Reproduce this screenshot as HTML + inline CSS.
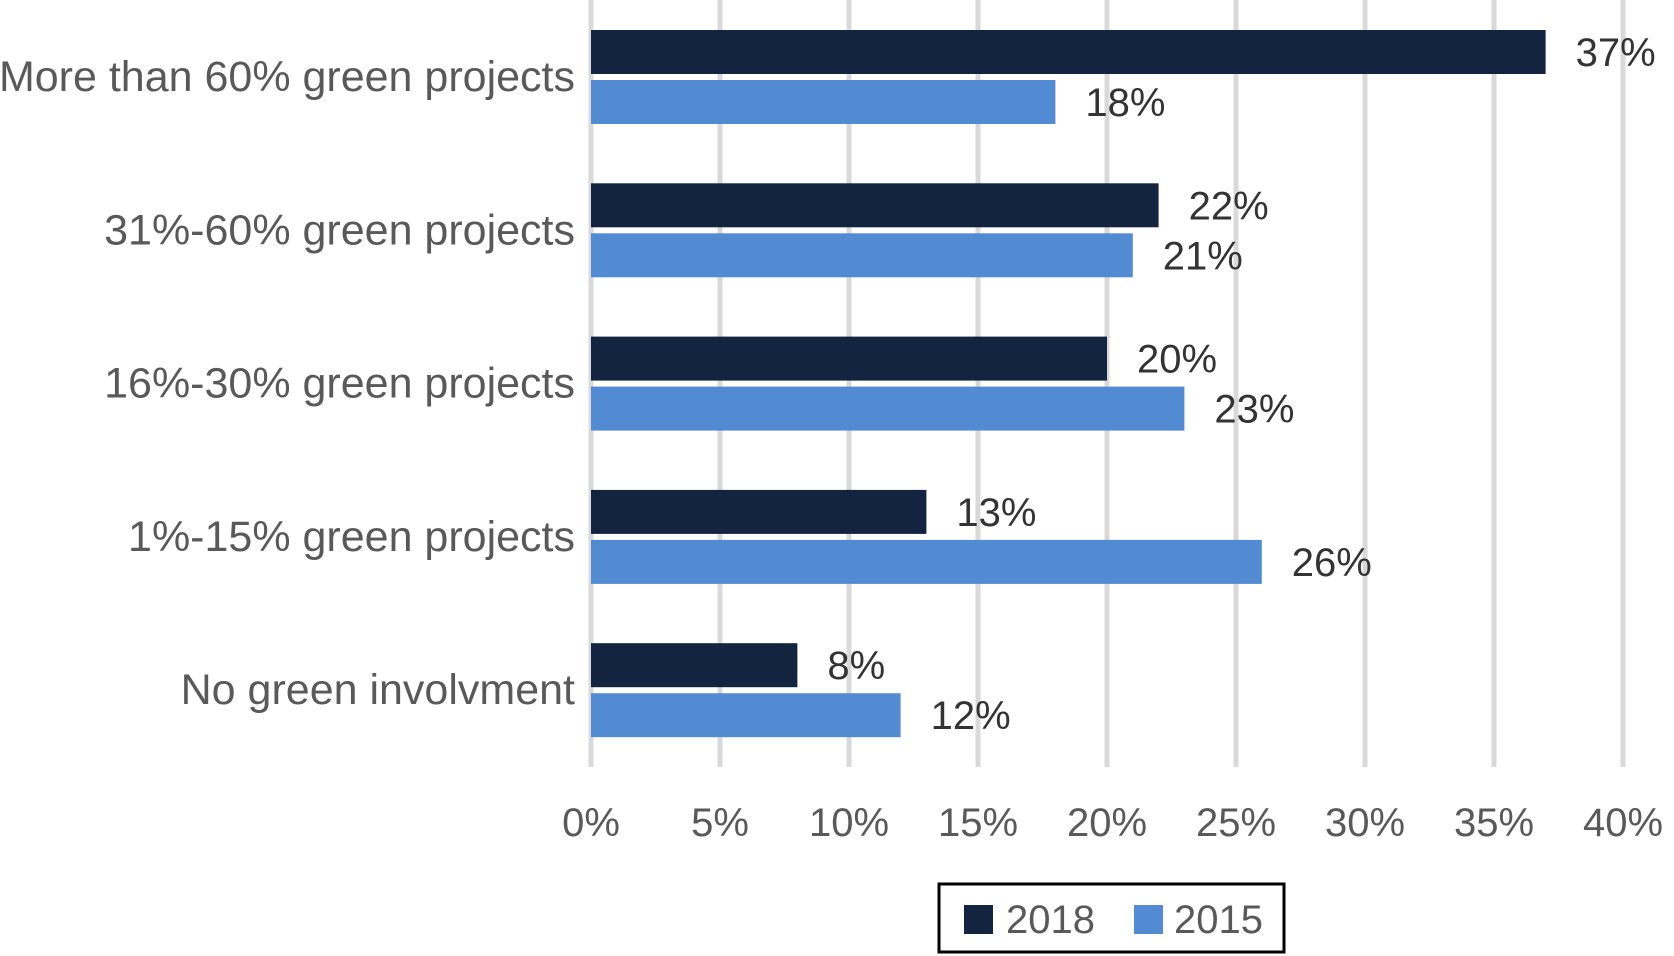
<!DOCTYPE html>
<html><head><meta charset="utf-8"><style>body{margin:0;background:#fff}svg{display:block}text{font-family:"Liberation Sans",sans-serif}</style></head>
<body>
<svg id="c" width="1674" height="956"></svg>
<script>
const categories=["More than 60% green projects","31%-60% green projects","16%-30% green projects","1%-15% green projects","No green involvment"];
const series2018=[37,22,20,13,8];
const series2015=[18,21,23,26,12];
const ticks=[0,5,10,15,20,25,30,35,40];
const NS="http://www.w3.org/2000/svg";
const svg=document.getElementById('c');
const x0=591,x1=1623;
const xs=v=>x0+(x1-x0)*v/40;
const gy=i=>30+i*153.3;
function el(t,a,p){const e=document.createElementNS(NS,t);for(const k in a)e.setAttribute(k,a[k]);(p||svg).appendChild(e);return e;}
ticks.forEach(t=>{
 const g=el('line',{x1:xs(t),x2:xs(t),y1:0,y2:767,stroke:'#d9d9d9','stroke-width':5});
 
 
 const l=el('text',{x:xs(t),y:836,'text-anchor':'middle','font-size':40,fill:'#595959'});
 l.textContent=t+'%';
 
 
});
categories.forEach((c,i)=>{
 const y=gy(i);
 const lab=el('text',{x:575,y:y+61,'text-anchor':'end','font-size':43,fill:'#595959'});
 lab.textContent=c;
 
 
 [[series2018,'#12243f',0,'2018'],[series2015,'#538bd3',50,'2015']].forEach(([s,col,off,nm])=>{
  const b=el('rect',{x:x0,y:y+off,width:xs(s[i])-x0,height:44,fill:col});
  
  
  const v=el('text',{x:xs(s[i])+30,y:y+off+36,'font-size':40,fill:'#333'});
  v.textContent=s[i]+'%';
  
  
 });
});
const lg=el('g',{});


el('rect',{x:939,y:884,width:345,height:68,fill:'#fff',stroke:'#000','stroke-width':3},lg);
el('rect',{x:964,y:905,width:29,height:29,fill:'#12243f'},lg);
const t1=el('text',{x:1006,y:933,'font-size':40,fill:'#595959'},lg);t1.textContent='2018';


el('rect',{x:1134,y:905,width:29,height:29,fill:'#538bd3'},lg);
const t2=el('text',{x:1174,y:933,'font-size':40,fill:'#595959'},lg);t2.textContent='2015';


</script>
</body></html>
